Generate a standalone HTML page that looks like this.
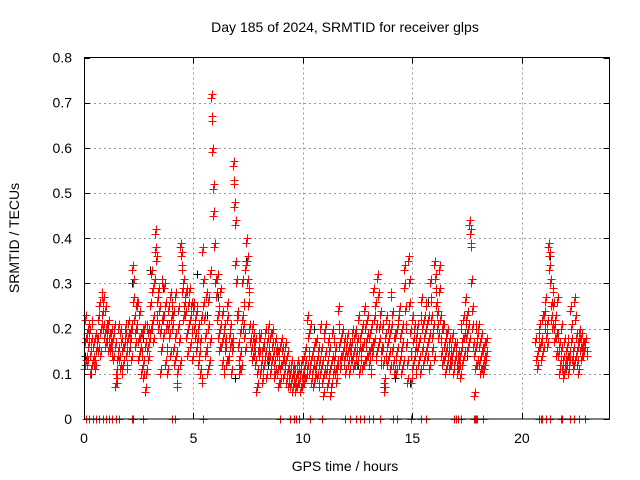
<!DOCTYPE html>
<html><head><meta charset="utf-8"><style>
html,body{margin:0;padding:0;background:#fff;}
svg{display:block;font-family:"Liberation Sans",sans-serif;}
</style></head><body>
<svg id="chart" width="640" height="480" viewBox="0 0 640 480" xmlns="http://www.w3.org/2000/svg">
<rect x="0" y="0" width="640" height="480" fill="#fff"/>
<text x="345" y="32" font-size="14" text-anchor="middle">Day 185 of 2024, SRMTID for receiver glps</text>
<text transform="translate(19,238) rotate(-90)" font-size="14" text-anchor="middle">SRMTID / TECUs</text>
<text x="345" y="471" font-size="14" text-anchor="middle">GPS time / hours</text>
<g id="grid"></g>
<g id="ticks" shape-rendering="crispEdges"></g>
<g id="black" shape-rendering="crispEdges"></g>
<g id="red" shape-rendering="crispEdges"></g>
<rect x="84.5" y="57.5" width="525" height="361.5" fill="none" stroke="#000" stroke-width="1" shape-rendering="crispEdges"/>
</svg>
<script>
const xTicks=[0,5,10,15,20];
const yTicks=[0,0.1,0.2,0.3,0.4,0.5,0.6,0.7,0.8];
const yTickLabels=["0","0.1","0.2","0.3","0.4","0.5","0.6","0.7","0.8"];
const bucketTimes=[0,0.2,0.4,0.6,0.8,1.0,1.2,1.4,1.6,1.8,2.0,2.2,2.4,2.6,2.8,3.0,3.2,3.4,3.6,3.8,4.0,4.2,4.4,4.6,4.8,5.0,5.2,5.4,5.6,5.8,6.0,6.2,6.4,6.6,6.8,7.0,7.2,7.4,7.6,7.8,8.0,8.2,8.4,8.6,8.8,9.0,9.2,9.4,9.6,9.8,10.0,10.2,10.4,10.6,10.8,11.0,11.2,11.4,11.6,11.8,12.0,12.2,12.4,12.6,12.8,13.0,13.2,13.4,13.6,13.8,14.0,14.2,14.4,14.6,14.8,15.0,15.2,15.4,15.6,15.8,16.0,16.2,16.4,16.6,16.8,17.0,17.2,17.4,17.6,17.8,18.0,18.2,20.6,20.8,21.0,21.2,21.4,21.6,21.8,22.0,22.2,22.4,22.6,22.8];
const bucketValues=[
".11 .17 .22 .13 .18 .12 .2",".16 .19 .14 .1 .17 .21 .12",".13 .16 .12 .18 .11 .15 .17",".17 .22 .15 .25 .19 .14 .2",".27 .23 .26 .2 .18 .24 .16",
".2 .17 .19 .15 .21 .18 .16",".15 .19 .14 .17 .13 .18 .2",".16 .07 .1 .08 .13 .2 .15",".13 .19 .11 .17 .1 .15 .12",".12 .16 .18 .2 .14 .11 .17",
".18 .21 .15 .19 .17 .13 .2",".33 .3 .26 .22 .16 .19 .25",".2 .25 .17 .13 .23 .15 .18",".1 .14 .19 .09 .12 .2 .16",".06 .1 .2 .15 .19 .13 .17",
".19 .25 .32 .2 .28 .22 .17",".3 .37 .41 .35 .22 .26 .2",".28 .24 .1 .19 .15 .3 .22",".22 .18 .29 .25 .12 .2 .15",".1 .24 .2 .18 .27 .14 .22",
".25 .2 .23 .15 .12 .18 .27",".14 .07 .1 .2 .24 .17 .12",".38 .36 .33 .28 .3 .22 .25",".27 .23 .18 .28 .14 .2 .25",".28 .22 .16 .25 .19 .13 .24",
".25 .2 .18 .22 .15 .24 .17",".12 .2 .14 .1 .17 .22 .08",".37 .3 .25 .22 .18 .14 .27",".15 .1 .2 .26 .12 .17 .32",".71 .66 .59 .51 .45 .38 .3",
".3 .27 .31 .22 .18 .24 .15",".28 .2 .16 .23 .12 .18 .1",".2 .15 .17 .12 .22 .25 .13",".13 .18 .16 .2 .1 .15 .17",".56 .52 .47 .43 .34 .3 .23",
".22 .16 .12 .1 .14 .19 .11",".3 .22 .2 .25 .18 .33 .15",".39 .35 .3 .25 .28 .2 .17",".17 .15 .2 .13 .18 .16 .14",".17 .12 .06 .07 .1 .15 .18",
".14 .1 .18 .12 .08 .15 .11",".16 .12 .19 .14 .09 .17 .13",".2 .15 .13 .18 .1 .12 .16",".19 .14 .09 .12 .17 .1 .15",".14 .1 .07 .12 .15 .08 .11",
".17 .12 .15 .09 .13 .1 .16",".12 .08 .1 .14 .07 .11 .09",".1 .07 .12 .06 .09 .11 .08",".1 .08 .06 .09 .12 .07 .1",".11 .08 .1 .06 .12 .09 .07",
".13 .1 .08 .12 .15 .09 .11",".22 .18 .14 .1 .2 .12 .08",".14 .1 .07 .12 .16 .09 .11",".17 .13 .09 .15 .07 .12 .1",".2 .15 .12 .08 .05 .18 .1",
".2 .14 .1 .07 .12 .17 .09",".15 .11 .05 .07 .13 .19 .1",".17 .13 .1 .15 .08 .12 .11",".24 .2 .16 .13 .11 .18 .14",".19 .15 .12 .17 .14 .1 .16",
".14 .18 .12 .16 .1 .15 .13",".16 .13 .19 .11 .15 .18 .12",".19 .14 .12 .17 .22 .1 .15",".18 .13 .15 .11 .2 .16 .12",".24 .2 .16 .13 .18 .22 .14",
".18 .12 .15 .1 .2 .14 .16",".28 .22 .17 .25 .13 .2 .15",".31 .27 .2 .17 .23 .12 .15",".2 .15 .12 .08 .06 .18 .13",".22 .16 .12 .2 .14 .18 .11",
".27 .2 .15 .23 .12 .18 .1",".18 .13 .1 .2 .15 .22 .12",".24 .18 .14 .1 .2 .16 .12",".33 .29 .24 .2 .16 .12 .08",".35 .3 .25 .19 .14 .08 .11",
".22 .17 .13 .2 .15 .1 .18",".2 .15 .12 .17 .13 .1 .22",".26 .2 .15 .12 .18 .22 .14",".25 .2 .16 .13 .22 .18 .11",".3 .26 .22 .18 .15 .2 .13",
".34 .31 .28 .25 .2 .23 .18",".33 .28 .22 .17 .14 .2 .12",".2 .16 .13 .1 .18 .15 .12",".19 .14 .11 .17 .13 .15 .12",".18 .14 .1 .16 .12 .13 .15",
".16 .12 .1 .14 .11 .13 .09",".2 .15 .12 .17 .22 .14 .18",".26 .21 .18 .23 .15 .2 .17",".43 .41 .38 .3 .24 .2 .16",".05 .14 .11 .2 .16 .12 .18",
".2 .16 .12 .1 .14 .18 .11",".15 .1 .13 .16 .12 .17 .14",
".17 .13 .11 .15 .18",".2 .16 .13 .17 .22 .15",".23 .2 .26 .18 .21 .16",".38 .36 .33 .3 .25 .22 .2",".28 .25 .2 .17 .22 .14 .18",
".26 .18 .14 .1 .16 .12 .2",".15 .11 .09 .13 .17 .1 .12",".15 .11 .13 .17 .1 .14 .12",".24 .2 .17 .13 .11 .15 .12",".26 .22 .18 .14 .12 .16 .1",
".19 .17 .15 .13 .18 .16 .14",".16 .15 .17 .14"];
const zeroTimes=[0.1,0.25,0.4,0.55,0.7,0.85,1.0,1.15,1.3,1.45,1.6,2.2,2.25,2.7,4.0,4.15,5.45,8.95,9.4,9.6,9.7,9.8,10.3,10.85,11.9,12.15,12.4,12.6,12.8,13.0,13.2,13.5,14.1,14.3,14.95,15.4,15.6,16.9,17.0,17.1,17.2,17.8,17.85,17.9,17.95,18.2,20.8,20.85,20.9,21.1,21.3,21.8,21.85,22.2,22.4,22.6,22.9];
const blackTimes=[0.05,0.3,2.2,2.7,3.0,3.6,5.15,5.6,6.1,6.9,7.4,8.4,10.5,12.5,13.7,14.2,14.9,15.7,17.5,21.3,22.4,22.1];
const blackValues=[0.14,0.1,0.3,0.18,0.33,0.29,0.32,0.23,0.27,0.09,0.35,0.12,0.2,0.12,0.07,0.09,0.08,0.26,0.14,0.36,0.26,0.1];

const X0=84,X1=609.5,Y0=419,Y1=57.5;
function sx(h){return X0+(h/24)*(X1-X0);}
function sy(v){return Y0-(v/0.8)*(Y0-Y1);}
const NS="http://www.w3.org/2000/svg";
function el(tag,attrs,parent){const e=document.createElementNS(NS,tag);for(const k in attrs)e.setAttribute(k,attrs[k]);parent.appendChild(e);return e;}
const grid=document.getElementById('grid'),ticks=document.getElementById('ticks');
xTicks.forEach((t,i)=>{
  const x=Math.round(sx(t))+0.5;
  if(t>0){const g=el('line',{x1:x,y1:Y1,x2:x,y2:Y0,stroke:'#999','stroke-dasharray':'2,3'},grid);
  
  }
  el('line',{x1:x,y1:Y0,x2:x,y2:Y0-6,stroke:'#000'},ticks);
  el('line',{x1:x,y1:Y1,x2:x,y2:Y1+6,stroke:'#000'},ticks);
  const tx=el('text',{x:sx(t),y:443,'font-size':14,'text-anchor':'middle'},ticks);
  tx.textContent=String(t);
  
  
});
yTicks.forEach((t,i)=>{
  const y=Math.round(sy(t))+0.5;
  if(t>0&&t<0.8){const g=el('line',{x1:X0,y1:y,x2:X1,y2:y,stroke:'#999','stroke-dasharray':'2,3'},grid);
  
  }
  el('line',{x1:X0,y1:y,x2:X0+6,y2:y,stroke:'#000'},ticks);
  el('line',{x1:X1,y1:y,x2:X1-6,y2:y,stroke:'#000'},ticks);
  const tx=el('text',{x:72,y:sy(t)+5,'font-size':14,'text-anchor':'end'},ticks);
  tx.textContent=yTickLabels[i];
  
  
});
function cross(parent,h,v,color){
  const x=Math.round(sx(h))+0.5,y=Math.round(sy(v))+0.5;
  const p=el('path',{d:`M${x-4},${y}H${x+4}M${x},${y-4}V${y+4}`,stroke:color,'stroke-width':1,fill:'none'},parent);
  
  
}
const black=document.getElementById('black'),red=document.getElementById('red');
blackTimes.forEach((t,i)=>cross(black,t,blackValues[i],'#000'));
bucketTimes.forEach((t,i)=>{
  const vals=bucketValues[i].split(' ').map(Number);
  vals.forEach((v,j)=>{
    const h=t+0.2*j/vals.length;
    cross(red,h,v,'#f00');
    cross(red,h+0.04,v+0.01,'#f00');
  });
});
zeroTimes.forEach(t=>cross(red,t,0,'#f00'));
</script>
</body></html>
